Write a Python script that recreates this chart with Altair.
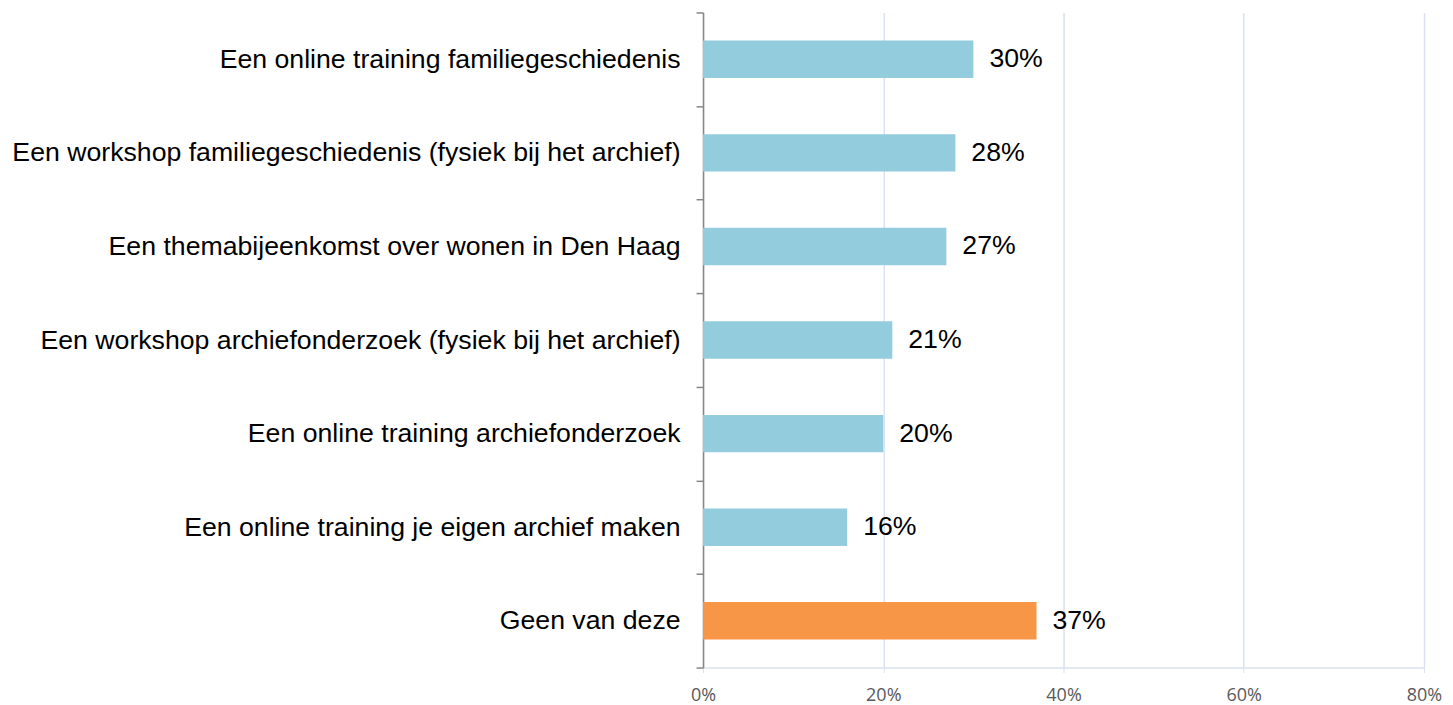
import altair as alt
import pandas as pd

categories = [
    "Een online training familiegeschiedenis",
    "Een workshop familiegeschiedenis (fysiek bij het archief)",
    "Een themabijeenkomst over wonen in Den Haag",
    "Een workshop archiefonderzoek (fysiek bij het archief)",
    "Een online training archiefonderzoek",
    "Een online training je eigen archief maken",
    "Geen van deze",
]
values = [0.30, 0.28, 0.27, 0.21, 0.20, 0.16, 0.37]
groups = ["a", "a", "a", "a", "a", "a", "b"]

df = pd.DataFrame({"cat": categories, "val": values, "grp": groups})

base = alt.Chart(df).encode(
    y=alt.Y("cat:N", sort=categories, title=None,
            scale=alt.Scale(paddingInner=0, paddingOuter=0),
            axis=alt.Axis(labelFont="Liberation Sans", labelFontSize=26.7, labelColor="#000000",
                          labelPadding=16, labelLimit=900, domainColor="#868686", tickColor="#868686",
                          tickSize=7, tickBand="extent", domainWidth=1.5, tickWidth=1.5, grid=False)),
    x=alt.X("val:Q", title=None,
            scale=alt.Scale(domain=[0, 0.8], nice=False),
            axis=alt.Axis(format=".0%", values=[0, 0.2, 0.4, 0.6, 0.8], labelFont="Open Sans",
                          labelFontSize=18, labelColor="#595959", labelPadding=14, labelFlush=False,
                          domainColor="#D9E2F0", tickColor="#D9E2F0", tickSize=5, domainWidth=1.5,
                          gridColor="#D9E2F0", gridWidth=1.5)),
)

bars = base.mark_bar(height={"band": 0.4}).encode(
    color=alt.Color("grp:N", scale=alt.Scale(domain=["a", "b"], range=["#93CDDD", "#F79646"]), legend=None)
)
labels = base.mark_text(align="left", baseline="middle", dx=16, font="Liberation Sans", fontSize=26.7,
                        color="#000000").encode(text=alt.Text("val:Q", format=".0%"))

chart = (bars + labels).properties(width=722, height=656, padding={"left": 4, "top": -9, "right": 3, "bottom": 0}).configure_view(stroke=None)

chart.save("out.html", embed_options={"renderer": "svg", "actions": False})
